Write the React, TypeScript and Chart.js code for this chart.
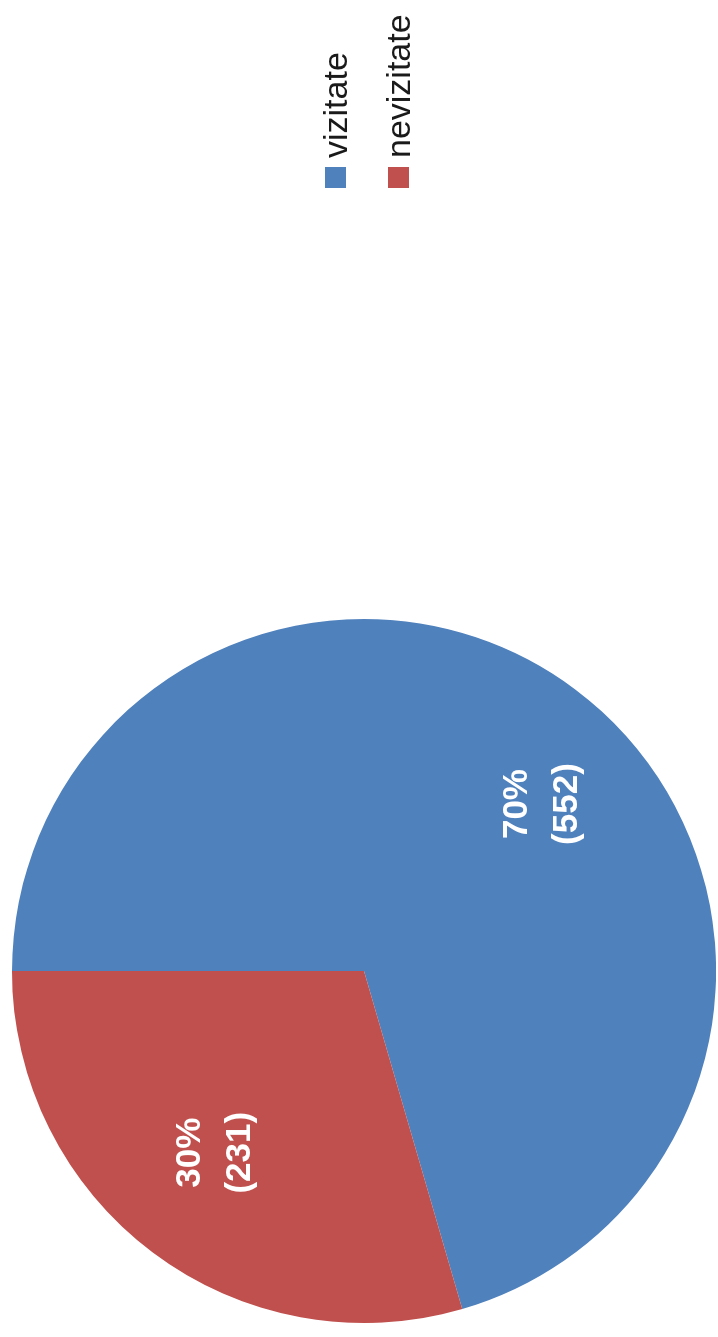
import React, { useEffect, useRef } from "react";
import { Chart, registerables } from "chart.js";

Chart.register(...registerables);

const categories = ["vizitate", "nevizitate"];
const values = [552, 231];
const sliceColors = ["#4F81BD", "#C0504D"];

const W = 1337; // unrotated frame width
const H = 718; // unrotated frame height

const labelPlugin = {
  id: "sliceLabels",
  afterDatasetsDraw(chart: any) {
    const ctx = chart.ctx;
    const meta = chart.getDatasetMeta(0);
    const total = values.reduce((a, b) => a + b, 0);
    ctx.save();
    ctx.fillStyle = "#ffffff";
    ctx.font = 'bold 35px "Liberation Sans", Arial, sans-serif';
    ctx.textAlign = "center";
    ctx.textBaseline = "middle";
    meta.data.forEach((arc: any, i: number) => {
      const p = arc.getProps(["x", "y", "startAngle", "endAngle", "outerRadius"], true);
      const a = p.startAngle + (p.endAngle - p.startAngle) * 0.535;
      const r = p.outerRadius * 0.68;
      const cx = p.x + Math.cos(a) * r;
      const cy = p.y + Math.sin(a) * r + 7;
      const pct = Math.round((values[i] / total) * 100) + "%";
      ctx.fillText(pct, cx, cy - 25);
      ctx.fillText("(" + values[i] + ")", cx, cy + 25);
    });
    ctx.restore();
  },
};

const legendPlugin = {
  id: "sideLegend",
  afterDraw(chart: any) {
    const ctx = chart.ctx;
    ctx.save();
    ctx.font = '34px "Liberation Sans", Arial, sans-serif';
    ctx.textAlign = "left";
    ctx.textBaseline = "alphabetic";
    categories.forEach((c, i) => {
      const top = 325 + i * 63;
      ctx.fillStyle = sliceColors[i];
      ctx.fillRect(1149, top, 21, 21);
      ctx.fillStyle = "#1a1a1a";
      ctx.fillText(c, 1179, top + 22);
    });
    ctx.restore();
  },
};

export default function App() {
  const ref = useRef<HTMLCanvasElement>(null);
  useEffect(() => {
    document.body.style.overflow = "hidden";
    const chart = new Chart(ref.current as HTMLCanvasElement, {
      type: "pie",
      data: {
        labels: categories,
        datasets: [
          {
            data: values,
            backgroundColor: sliceColors,
            borderWidth: 0,
          },
        ],
      },
      options: {
        responsive: false,
        animation: false,
        layout: { padding: { left: 14, top: 12, right: W - 718, bottom: 2 } },
        plugins: {
          legend: { display: false },
          tooltip: { enabled: false },
        },
      },
      plugins: [labelPlugin, legendPlugin],
    });
    return () => chart.destroy();
  }, []);
  return (
    <div
      style={{
        position: "absolute",
        left: 0,
        top: 0,
        width: W,
        height: H,
        background: "#ffffff",
        transformOrigin: "0 0",
        transform: `translateY(${W}px) rotate(-90deg)`,
      }}
    >
      <canvas ref={ref} width={W} height={H} style={{ display: "block" }} />
    </div>
  );
}
